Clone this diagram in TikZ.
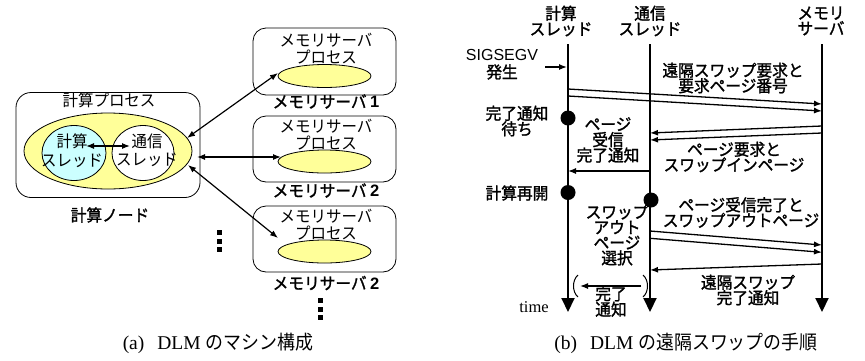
\documentclass[tikz,border=0pt]{standalone}
\usepackage{fontspec}
\setmainfont{Liberation Serif}
\newfontfamily\jp[FakeStretch=0.95]{Noto Sans CJK JP}
\newfontfamily\jpb[FakeBold=1.5,FakeStretch=0.95]{Noto Sans CJK JP}
\newfontfamily\jpc[FakeStretch=0.92]{Noto Sans CJK JP}
\newfontfamily\arial{Liberation Sans}
\usetikzlibrary{arrows.meta,shapes.geometric}
\definecolor{ylw}{RGB}{255,255,153}
\definecolor{cyn}{RGB}{204,255,255}
\tikzset{
  jt/.style={font=\jp\fontsize{16.3}{17}\selectfont, inner sep=0pt, align=center},
  rt/.style={font=\jpb\fontsize{16.5}{15.5}\selectfont, inner sep=0pt, align=center},
  lbl/.style={font=\jpb\fontsize{16.5}{16}\selectfont, inner sep=0pt},
  captxt/.style={font=\fontsize{19.5}{20}\selectfont, inner sep=0pt},
  mbox/.style={draw, line width=0.8pt, rounded corners=13pt, inner sep=0pt},
  yel/.style={ellipse, draw, line width=0.8pt, fill=ylw, inner sep=0pt},
  dbl/.style={line width=1.2pt, {Latex[length=8pt,width=6pt]}-{Latex[length=8pt,width=6pt]}},
  msg/.style={line width=1.3pt, -{Latex[length=8pt,width=6pt]}},
  life/.style={line width=2pt, -{Triangle[length=14pt,width=13pt]}},
  sdot/.style={circle, fill=black, inner sep=0pt, minimum size=15pt},
}
\begin{document}
\begin{tikzpicture}[x=1pt,y=-1pt]
\useasboundingbox (0,0) rectangle (865,360);
% ---------- (a) ----------
\node[mbox, rounded corners=15pt, minimum width=184pt, minimum height=105pt] (cnode) at (108,145) {};
\node[jt] (cproc) at (109,100) {計算プロセス};
\node[yel, minimum width=168pt, minimum height=76pt] (proc) at (108,151) {};
\node[ellipse, draw, line width=0.8pt, fill=cyn, minimum width=64pt, minimum height=55pt, inner sep=0pt] (cth) at (74,153) {};
\node[ellipse, draw, line width=0.8pt, fill=white, minimum width=62pt, minimum height=55pt, inner sep=0pt] (tth) at (143,153) {};
\node[jt, font=\jp\fontsize{16.3}{18.5}\selectfont] (cthl) at (72,150.5) {計算\\スレッド};
\node[jt, font=\jp\fontsize{16.3}{18.5}\selectfont] (tthl) at (147,150.5) {通信\\スレッド};
\coordinate (c1) at (86,146);
\coordinate (c2) at (130,146);
\draw[dbl] (c1) -- (c2);
\node[lbl] (cnl) at (110,215) {計算ノード};

\foreach \n/\yt/\yb/\ytx/\ye/\yl/\lab in {1/28/95/48.5/76/101.5/1, 2/116/182/134.5/161.5/190.5/2, 3/206/272/225/251.5/283/2}{
  \node[mbox, minimum width=143pt, minimum height={\yb-\yt}] (ms\n) at (324.5,{(\yt+\yb)/2}) {};
  \node[jt] (mst\n) at (326,\ytx) {メモリサーバ\\プロセス};
  \node[yel, minimum width=93pt, minimum height=23pt] (mse\n) at (324.5,\ye) {};
  \node[lbl] (msl\n) at (326,\yl) {メモリサーバ {\arial\bfseries\lab}};
}
\coordinate (a1s) at (187,138); \coordinate (a1e) at (278,73);
\coordinate (a2s) at (197,157); \coordinate (a2e) at (281,157);
\coordinate (a3s) at (188,165); \coordinate (a3e) at (278,238);
\draw[dbl] (a1s) -- (a1e);
\draw[dbl] (a2s) -- (a2e);
\draw[dbl] (a3s) -- (a3e);
\foreach \yy in {230,238.5,247}{\fill (216.7,\yy) rectangle (221.7,\yy+5);}
\foreach \yy in {298,306.5,315}{\fill (318,\yy) rectangle (323,\yy+5);}

% ---------- (b) ----------
\coordinate (L1t) at (568,44); \coordinate (L1b) at (568,312);
\coordinate (L2t) at (650,44); \coordinate (L2b) at (650,312);
\coordinate (L3t) at (822,44); \coordinate (L3b) at (822,312);
\draw[life] (L1t) -- (L1b);
\draw[life] (L2t) -- (L2b);
\draw[life] (L3t) -- (L3b);
\node[rt] (h1) at (561,21) {計算\\スレッド};
\node[rt] (h2) at (650,21) {通信\\スレッド};
\node[rt] (h3) at (821,21) {メモリ\\サーバ};

\node[font=\arial\fontsize{16}{16}\selectfont, inner sep=0pt] (sig) at (502,55) {SIGSEGV};
\node[rt] (hass) at (502,72) {発生};
\coordinate (sgs) at (545,67); \coordinate (sge) at (567,67);
\draw[msg] (sgs) -- (sge);

\coordinate (m1s) at (568,89);  \coordinate (m1e) at (822,104);
\coordinate (m2s) at (568,96);  \coordinate (m2e) at (822,111);
\draw[msg] (m1s) -- (m1e);
\draw[msg] (m2s) -- (m2e);
\node[rt] (t1) at (733,78) {遠隔スワップ要求と\\要求ページ番号};

\node[sdot] (d1) at (568,118) {};
\node[rt] (t2) at (517,121) {完了通知\\待ち};

\coordinate (m3s) at (822,126); \coordinate (m3e) at (650,133);
\coordinate (m4s) at (822,133); \coordinate (m4e) at (650,140);
\draw[msg] (m3s) -- (m3e);
\draw[msg] (m4s) -- (m4e);
\node[rt] (t3) at (608,140) {ページ\\受信\\完了通知};
\node[rt] (t4) at (734,157) {ページ要求と\\スワップインページ};

\coordinate (m5s) at (650,171); \coordinate (m5e) at (568,171);
\draw[msg] (m5s) -- (m5e);

\node[sdot] (d2) at (568,192.5) {};
\node[rt] (t5) at (517,193) {計算再開};
\node[sdot] (d3) at (651,200) {};
\node[rt] (t6) at (741,212.5) {ページ受信完了と\\スワップアウトページ};
\node[rt, font=\jpb\fontsize{16.5}{15.3}\selectfont] (t7) at (617,235) {スワップ\\アウト\\ページ\\選択};

\coordinate (m6s) at (650,231);   \coordinate (m6e) at (822,245);
\coordinate (m7s) at (650,238.3); \coordinate (m7e) at (822,252.3);
\draw[msg] (m6s) -- (m6e);
\draw[msg] (m7s) -- (m7e);
\coordinate (m8s) at (822,264); \coordinate (m8e) at (650,270);
\draw[msg] (m8s) -- (m8e);
\node[rt] (t8) at (748,290) {遠隔スワップ\\完了通知};

\coordinate (m9s) at (641,286); \coordinate (m9e) at (580,286);
\draw[msg] (m9s) -- (m9e);
\draw[line width=1pt] (578,275) .. controls (572,280) and (572,292) .. (578,297);
\draw[line width=1pt] (643,275) .. controls (649,280) and (649,292) .. (643,297);
\node[rt] (t9) at (611,301.5) {完了\\通知};
\node[font=\fontsize{16.5}{16}\selectfont, inner sep=0pt] (time) at (534,307) {time};

% captions
\node[captxt] (capa) at (218,343) {(a)\hspace{13pt}DLM {\jpc のマシン構成}};
\node[captxt] (capb) at (686,343) {(b)\hspace{13pt}DLM {\jpc の遠隔スワップの手順}};
\end{tikzpicture}
\end{document}
